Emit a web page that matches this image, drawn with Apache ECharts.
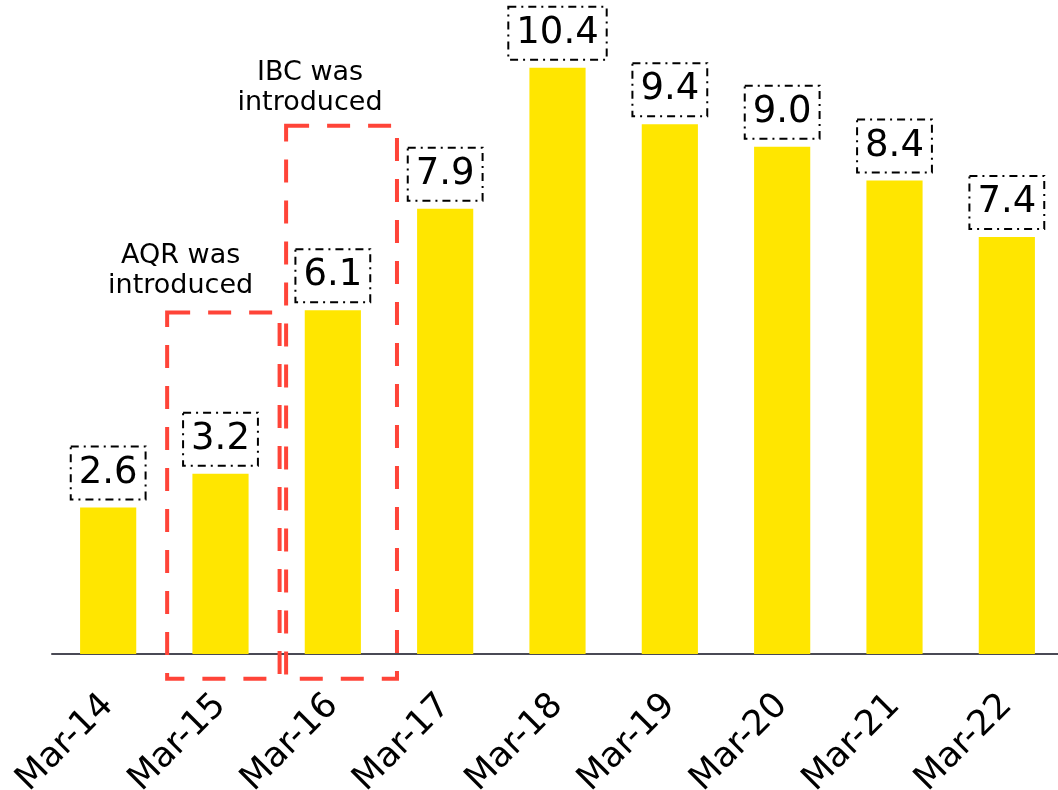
<!DOCTYPE html>
<html>
<head>
<meta charset="utf-8">
<title>Bar chart</title>
<script src="https://cdn.jsdelivr.net/npm/echarts@6/dist/echarts.min.js"></script>
<style>
  html, body { margin: 0; padding: 0; background: #ffffff; }
  #chart { width: 1058px; height: 790px; }
</style>
</head>
<body>
<div id="chart"></div>
<script>
// Fiscal year ends
const categories = ['Mar-14', 'Mar-15', 'Mar-16', 'Mar-17', 'Mar-18', 'Mar-19', 'Mar-20', 'Mar-21', 'Mar-22'];
// Values shown above each bar
const values = [2.6, 3.2, 6.1, 7.9, 10.4, 9.4, 9.0, 8.4, 7.4];
// Callout texts
const noteTexts = ['AQR was\nintroduced', 'IBC was\nintroduced'];

const FONT = 'DejaVu Sans';
const RED = '#FF4438';

const chart = echarts.init(document.getElementById('chart'), null, { renderer: 'canvas' });

chart.setOption({
  animation: false,
  backgroundColor: '#ffffff',
  grid: {
    left: 52, right: -5, top: 34, bottom: 136,
    containLabel: false,
    outerBoundsMode: 'none'
  },
  xAxis: {
    type: 'category',
    data: categories,
    axisLine: { show: true, lineStyle: { color: '#4a4a55', width: 2 } },
    axisTick: { show: false },
    axisLabel: {
      rotate: 45,
      margin: 46,
      fontFamily: FONT,
      fontSize: 35,
      color: '#000000',
      interval: 0
    }
  },
  yAxis: {
    type: 'value',
    min: 0,
    max: 11,
    show: false,
    splitLine: { show: false }
  },
  series: [{
    type: 'bar',
    data: values,
    barWidth: '50%',
    itemStyle: { color: '#FFE600' },
    label: {
      show: true,
      position: 'top',
      distance: 8,
      formatter: p => p.value.toFixed(1),
      fontFamily: FONT,
      fontSize: 37,
      color: '#000000',
      lineHeight: 47,
      padding: [3, 8, 3, 8],
      borderColor: '#000000',
      borderWidth: 2,
      borderType: [8, 5, 2, 5]
    }
  }]
});

// Callout boxes and notes, placed through the axis scales
function px(cat, val) {
  return chart.convertToPixel({ xAxisIndex: 0, yAxisIndex: 0 }, [cat, val]);
}
function drawNotes() {
  const band = px(1, 0)[0] - px(0, 0)[0];
  const boxes = [
    { cat: 1, from: -0.475, to: 0.526, top: 6.06, bottom: -0.44 },
    { cat: 2, from: -0.416, to: 0.571, top: 9.37, bottom: -0.44 }
  ];
  const notes = [
    { cat: 1, shift: -0.355, val: 6.79, text: noteTexts[0] },
    { cat: 2, shift: -0.203, val: 10.04, text: noteTexts[1] }
  ];
  const elements = [];
  boxes.forEach(b => {
    const c = px(b.cat, b.top);
    const d = px(b.cat, b.bottom);
    const x0 = c[0] + b.from * band;
    const x1 = c[0] + b.to * band;
    elements.push({
      type: 'rect',
      silent: true,
      z: 10,
      shape: { x: x0, y: c[1], width: x1 - x0, height: d[1] - c[1] },
      style: { fill: null, stroke: RED, lineWidth: 4, lineDash: [23, 18] }
    });
  });
  notes.forEach(n => {
    const p = px(n.cat, n.val);
    elements.push({
      type: 'text',
      silent: true,
      z: 11,
      x: p[0] + n.shift * band,
      y: p[1],
      style: {
        text: n.text,
        fontFamily: FONT,
        fontSize: 27,
        lineHeight: 30,
        fill: '#000000',
        align: 'center',
        verticalAlign: 'middle'
      }
    });
  });
  chart.setOption({ graphic: elements });
}
drawNotes();
</script>
</body>
</html>
